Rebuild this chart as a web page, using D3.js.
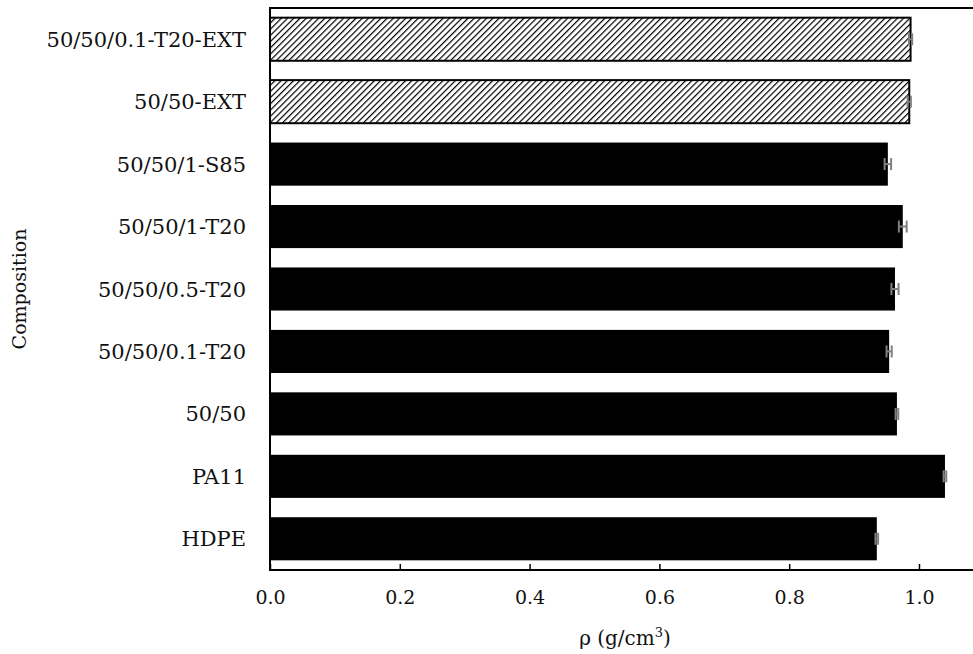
<!DOCTYPE html>
<html><head><meta charset="utf-8">
<script src="https://cdn.jsdelivr.net/npm/d3@7"></script>
<style>body{margin:0;background:#fff}svg{display:block}text{font-family:"DejaVu Serif",serif;fill:#111}</style>
</head><body><svg id="c" width="973" height="654"></svg>
<script>
const categories = ["HDPE","PA11","50/50","50/50/0.1-T20","50/50/0.5-T20","50/50/1-T20","50/50/1-S85","50/50-EXT","50/50/0.1-T20-EXT"];
const values = [0.935,1.040,0.966,0.954,0.963,0.975,0.952,0.985,0.987];
const errors = [0.002,0.002,0.002,0.004,0.0055,0.006,0.005,0.0025,0.0025];
const hatched = [false,false,false,false,false,false,false,true,true];
const xTicks = [0,0.2,0.4,0.6,0.8,1.0];

const svg = d3.select("#c");
const m = {l:270, t:8, b:570};
const x = d3.scaleLinear().domain([0,1]).range([m.l, 919]);
const y = d3.scaleBand().domain(categories.slice().reverse()).range([m.t, m.b]).paddingInner(0.31).paddingOuter(0.155);

const defs = svg.append("defs");
const P = 4.4;
const pat = defs.append("pattern").attr("id","hatch").attr("patternUnits","userSpaceOnUse")
  .attr("width",P).attr("height",P).attr("patternTransform","rotate(45)");
pat.append("rect").attr("width",P).attr("height",P).attr("fill","#fff");
pat.append("line").attr("x1",0).attr("y1",0).attr("x2",0).attr("y2",P).attr("stroke","#000").attr("stroke-width",2.4);

const data = categories.map((c,i)=>({c, v:values[i], e:errors[i], h:hatched[i]}));

svg.selectAll("rect.bar").data(data).join("rect").attr("class","bar")
  .attr("x", x(0)).attr("y", d=>y(d.c)).attr("width", d=>x(d.v)-x(0)).attr("height", y.bandwidth())
  .attr("fill", d=>d.h ? "url(#hatch)" : "#000")
  .attr("stroke", d=>d.h ? "#000" : "none").attr("stroke-width",2);

const eb = svg.selectAll("g.err").data(data).join("g").attr("class","err")
  .attr("stroke","#808080").attr("stroke-width",2);
const cy = d=>y(d.c)+y.bandwidth()/2;
eb.append("line").attr("x1",d=>x(d.v-d.e)).attr("x2",d=>x(d.v+d.e)).attr("y1",cy).attr("y2",cy);
eb.append("line").attr("x1",d=>x(d.v-d.e)).attr("x2",d=>x(d.v-d.e)).attr("y1",d=>cy(d)-6).attr("y2",d=>cy(d)+6);
eb.append("line").attr("x1",d=>x(d.v+d.e)).attr("x2",d=>x(d.v+d.e)).attr("y1",d=>cy(d)-6).attr("y2",d=>cy(d)+6);

// frame
svg.append("line").attr("x1",m.l).attr("x2",973).attr("y1",m.t).attr("y2",m.t).attr("stroke","#000").attr("stroke-width",2);
svg.append("line").attr("x1",m.l).attr("x2",m.l).attr("y1",m.t-1).attr("y2",m.b+1).attr("stroke","#000").attr("stroke-width",2);

const xa = svg.append("g").attr("transform",`translate(0,${m.b})`)
  .call(d3.axisBottom(x).tickValues(xTicks).tickFormat(d3.format(".1f")).tickSizeInner(-6).tickSizeOuter(0).tickPadding(21));
xa.select(".domain").attr("d",`M${m.l},0H973`).attr("stroke","#000").attr("stroke-width",2);
xa.selectAll(".tick line").attr("stroke","#000").attr("stroke-width",1.5);
xa.selectAll("text").attr("font-size",19).attr("font-family","DejaVu Serif").attr("fill","#111");

svg.selectAll("text.cat").data(data).join("text").attr("class","cat")
  .attr("x",246).attr("y",d=>cy(d)).attr("dy","0.36em").attr("text-anchor","end")
  .attr("font-size",21).text(d=>d.c);

svg.append("text").attr("x",625).attr("y",645).attr("text-anchor","middle").attr("font-size",20)
  .html('ρ (g/cm<tspan dy="-8" font-size="13">3</tspan><tspan dy="8">)</tspan>');
svg.append("text").attr("transform","translate(26,289) rotate(-90)").attr("text-anchor","middle").attr("font-size",19).text("Composition");
</script></body></html>
